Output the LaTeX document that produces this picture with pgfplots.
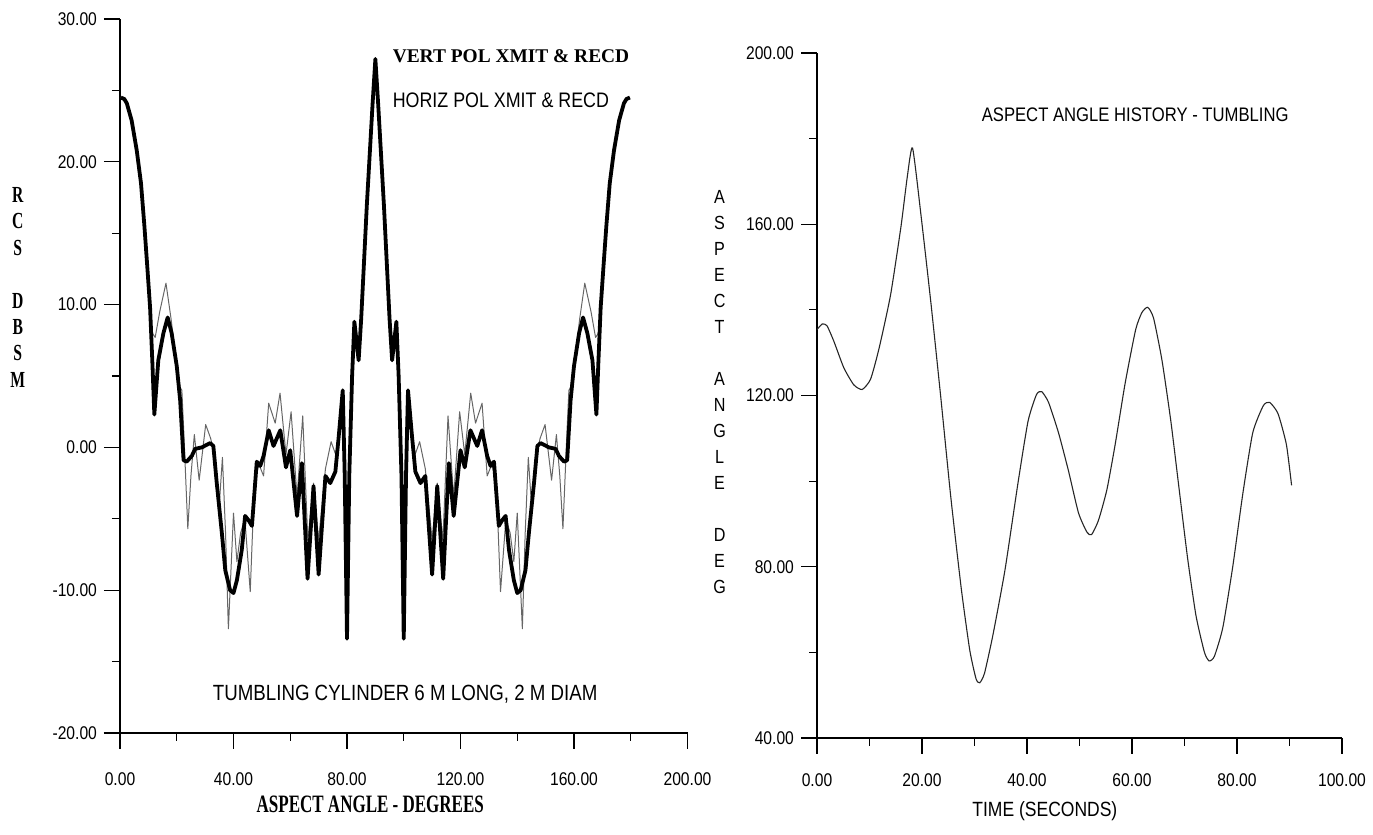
\documentclass[border=0pt]{standalone}
\usepackage{fontspec}
\usepackage{pgfplots}
\pgfplotsset{compat=1.18}
\setmainfont{Liberation Sans}[FakeStretch=0.85]
\newfontfamily\condserif{Liberation Serif}[FakeStretch=0.68]
\newfontfamily\plainserif{Liberation Serif}

\pgfplotsset{
  mystyle/.style={
    scale only axis,
    axis x line*=bottom, axis y line*=left,
    axis line style={-, line width=0.6pt},
    tick align=outside, major tick length=8pt, minor tick length=4pt,
    tick style={black, line width=0.6pt},
    tick label style={font=\fontsize{9.2}{10}\selectfont},
    xticklabel={\pgfmathprintnumber[fixed,fixed zerofill,precision=2,assume math mode=true]{\tick}},
    yticklabel={\pgfmathprintnumber[fixed,fixed zerofill,precision=2,assume math mode=true]{\tick}},
    clip=false,
  }
}

\begin{document}
\begin{tikzpicture}
\useasboundingbox (0,0) rectangle (686.5pt,417.5pt);
\begin{axis}[mystyle,
  at={(60pt,51pt)}, anchor=south west,
  width=283.75pt, height=357pt,
  xmin=0, xmax=200, ymin=-20, ymax=30,
  xtick={0,40,...,200}, minor xtick={20,60,...,180},
  ytick={-20,-10,...,30}, minor ytick={-15,-5,...,25},
  xticklabel style={yshift=-8.5pt},
]
\draw[line width=0.6pt] ([xshift=-8pt]rel axis cs:0,0) -- (rel axis cs:0,0);
% HORIZ POL (thin)
\addplot[black!60, line width=0.5pt, line join=round] coordinates {
(0.3,24.5)(2.4,24.1)(4.1,22.9)(5.9,20.8)(7.4,18.5)(8.6,15.5)(9.6,12.7)(10.6,9.8)
(11.4,8.0)(12.4,7.7)(14.0,9.5)(16.2,11.5)(18.0,9.0)(20.0,5.7)(21.2,4.2)(21.8,4.0)
(22.5,1.0)(23.9,-5.7)(25.0,-2.0)(26.2,0.9)(27.9,-2.3)(30.2,1.6)(32.0,0.6)(33.5,-1.0)
(35.0,-4.0)(36.1,-0.7)(37.2,-6.0)(38.2,-12.7)(40.0,-4.6)(41.2,-8.0)(42.5,-6.0)(44.0,-5.0)
(45.9,-10.1)(47.4,-2.3)(49.0,-1.2)(50.6,-2.0)(52.4,3.1)(54.7,1.7)(56.4,3.8)(58.5,-0.5)
(60.3,2.5)(62.4,-3.5)(64.4,2.2)(66.2,-6.5)(68.2,-2.5)(70.0,-6.5)(72.4,-1.5)(74.4,0.4)
(76.0,-0.5)(77.1,1.0)(78.5,4.0)(79.2,-2.0)(80.0,-13.4)(80.8,-2.0)(81.8,5.0)(82.6,8.8)
(84.1,6.1)(85.0,9.0)(86.0,13.0)(87.0,17.0)(88.0,20.5)(89.0,24.0)(90.0,27.2)
(91.0,24.0)(92.0,20.5)(93.0,17.0)(94.0,13.0)(95.0,9.0)(95.9,6.1)(97.4,8.8)(98.2,5.0)
(99.2,-2.0)(100.0,-13.4)(100.8,-2.0)(101.5,4.0)(102.9,1.0)(104.0,-0.5)(105.6,0.4)(107.6,-1.5)
(110.0,-6.5)(111.8,-2.5)(113.8,-6.5)(115.6,2.2)(117.6,-3.5)(119.7,2.5)(121.5,-0.5)(123.6,3.8)
(125.3,1.7)(127.6,3.1)(129.4,-2.0)(131.0,-1.2)(132.6,-2.3)(134.1,-10.1)(136.0,-5.0)(137.5,-6.0)
(138.8,-8.0)(140.0,-4.6)(141.8,-12.7)(142.8,-6.0)(143.9,-0.7)(145.0,-4.0)(146.5,-1.0)(148.0,0.6)
(149.8,1.6)(152.1,-2.3)(153.8,0.9)(155.0,-2.0)(156.1,-5.7)(157.5,1.0)(158.2,4.0)(158.8,4.2)
(160.0,5.7)(162.0,9.0)(163.8,11.5)(166.0,9.5)(167.6,7.7)(168.6,8.0)(169.4,9.8)(170.4,12.7)
(171.4,15.5)(172.6,18.5)(174.1,20.8)(175.9,22.9)(177.6,24.1)(179.7,24.5)
};
% VERT POL (thick)
\addplot[black, line width=1.9pt, line join=round] coordinates {
(0.3,24.5)(1.5,24.4)(2.4,24.1)(4.1,22.9)(5.9,20.8)(7.4,18.5)(8.6,15.5)(9.6,12.7)
(10.6,9.8)(11.4,6.0)(12.1,2.3)(13.5,6.1)(15.3,8.0)(16.8,9.1)(18.2,8.0)(20.0,5.7)
(21.2,3.3)(22.4,-0.9)(23.5,-1.0)(25.3,-0.6)(26.5,-0.1)(28.8,0.0)(31.8,0.3)(32.9,0.1)
(34.1,-2.5)(35.9,-6.0)(37.1,-8.6)(38.8,-10.0)(40.0,-10.2)(41.2,-9.3)(42.9,-7.2)(44.1,-4.8)
(45.3,-5.1)(46.5,-5.5)(48.2,-1.0)(49.4,-1.3)(50.6,-0.6)(52.4,1.2)(54.1,0.1)(56.5,1.2)
(58.5,-1.4)(60.0,-0.2)(62.4,-4.8)(64.1,-1.1)(66.1,-9.2)(68.2,-2.7)(70.0,-8.9)(72.4,-2.0)
(74.1,-2.5)(75.9,-1.7)(77.1,0.8)(78.5,4.0)(79.2,-2.0)(80.0,-13.4)(80.8,-2.0)(81.8,5.0)
(82.6,8.8)(84.1,6.1)(85.0,9.0)(86.0,13.0)(87.0,17.0)(88.0,20.5)(89.0,24.0)(90.0,27.2)
(91.0,24.0)(92.0,20.5)(93.0,17.0)(94.0,13.0)(95.0,9.0)(95.9,6.1)(97.4,8.8)(98.2,5.0)
(99.2,-2.0)(100.0,-13.4)(100.8,-2.0)(101.5,4.0)(102.9,0.8)(104.1,-1.7)(105.9,-2.5)(107.6,-2.0)
(110.0,-8.9)(111.8,-2.7)(113.9,-9.2)(115.9,-1.1)(117.6,-4.8)(120.0,-0.2)(121.5,-1.4)(123.5,1.2)
(125.9,0.1)(127.6,1.2)(129.4,-0.6)(130.6,-1.3)(131.8,-1.0)(133.5,-5.5)(134.7,-5.1)(135.9,-4.8)
(137.1,-7.2)(138.8,-9.3)(140.0,-10.2)(141.2,-10.0)(142.9,-8.6)(144.1,-6.0)(145.9,-2.5)(147.1,0.1)
(148.2,0.3)(151.2,0.0)(153.5,-0.1)(154.7,-0.6)(156.5,-1.0)(157.6,-0.9)(158.8,3.3)(160.0,5.7)
(161.8,8.0)(163.2,9.1)(164.7,8.0)(166.5,6.1)(167.9,2.3)(168.6,6.0)(169.4,9.8)(170.4,12.7)
(171.4,15.5)(172.6,18.5)(174.1,20.8)(175.9,22.9)(177.6,24.1)(178.5,24.4)(179.7,24.5)
};
\node[anchor=west, font=\plainserif\bfseries\fontsize{9.7}{11}\selectfont, inner sep=0pt] at (axis cs:96,27.4) {VERT POL XMIT \& RECD};
\node[anchor=west, font=\fontsize{10.5}{12}\selectfont, inner sep=0pt] at (axis cs:96,24.3) {HORIZ POL XMIT \& RECD};
\node[anchor=center, font=\fontsize{11}{13}\selectfont, inner sep=0pt] at (axis cs:100.5,-17.3) {TUMBLING CYLINDER 6 M LONG, 2 M DIAM};
\node[anchor=center, font=\condserif\bfseries\fontsize{12.5}{14}\selectfont, inner sep=0pt] at (axis cs:88.2,-25.0) {ASPECT ANGLE - DEGREES};
\node[anchor=center, align=center, font=\condserif\bfseries\fontsize{11.5}{13.2}\selectfont, inner sep=0pt] at (axis cs:-36,11.2) {R\\C\\S\\[13.2pt]D\\B\\S\\M};
\end{axis}

\begin{axis}[mystyle,
  at={(408.5pt,48.5pt)}, anchor=south west,
  width=262.5pt, height=342.5pt,
  xmin=0, xmax=100, ymin=40, ymax=200,
  xtick={0,20,...,100}, minor xtick={10,30,...,90},
  ytick={40,80,...,200}, minor ytick={60,100,140,180},
  xticklabel style={yshift=-6.5pt},
]
\draw[line width=0.6pt] ([xshift=-8pt]rel axis cs:0,0) -- (rel axis cs:0,0);
\addplot[black!85, line width=0.55pt, smooth, tension=0.35] coordinates {
(0.0,135.4)(1.0,136.7)(1.9,136.3)(3.2,132.7)(5.1,126.5)(7.0,122.5)(8.6,121.4)(10.2,123.8)
(11.8,130.9)(14.0,143.4)(16.0,159.5)(17.2,171.1)(18.2,177.8)(19.8,162.2)(21.7,141.6)(23.6,119.3)
(25.5,96.1)(27.5,74.7)(29.1,60.5)(30.3,53.8)(31.0,52.9)(31.9,55.1)(33.5,64.0)(35.8,79.2)
(38.3,99.7)(40.2,114.0)(41.8,120.2)(42.8,120.9)(44.1,118.4)(46.0,111.3)(47.9,102.4)(49.8,92.6)
(51.4,88.1)(52.3,87.5)(53.6,90.8)(55.2,97.9)(56.8,108.6)(58.7,122.9)(60.7,135.4)(61.9,139.4)
(63.0,140.6)(64.1,138.1)(65.7,128.3)(67.4,114.0)(69.0,97.9)(70.6,81.9)(72.2,68.5)(73.8,60.0)
(74.7,58.0)(75.7,59.1)(77.3,65.8)(79.2,80.1)(81.1,97.0)(83.0,111.3)(85.0,117.6)(86.2,118.4)
(87.8,115.8)(89.4,108.6)(90.4,99.0)
};
\node[anchor=center, font=\fontsize{9.8}{12}\selectfont, inner sep=0pt] at (axis cs:60.6,185.5) {ASPECT ANGLE HISTORY - TUMBLING};
\node[anchor=center, font=\fontsize{10.3}{12}\selectfont, inner sep=0pt] at (axis cs:43.4,22.8) {TIME (SECONDS)};
\node[anchor=center, align=center, font=\fontsize{9.5}{13}\selectfont, inner sep=0pt] at (axis cs:-18.55,120.9) {A\\S\\P\\E\\C\\T\\[13pt]A\\N\\G\\L\\E\\[13pt]D\\E\\G};
\end{axis}
\end{tikzpicture}
\end{document}
